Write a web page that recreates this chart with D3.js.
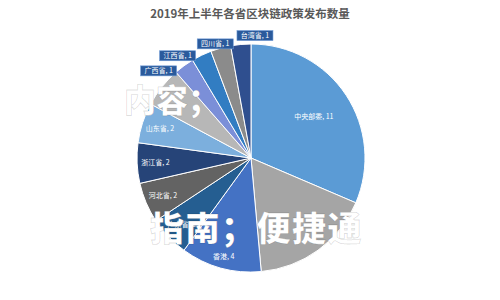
<!DOCTYPE html>
<html><head><meta charset="utf-8">
<script src="https://cdn.jsdelivr.net/npm/d3@7"></script>
<style>body{margin:0;background:#fff}svg{display:block}</style>
</head><body>
<svg id="c" width="500" height="300"></svg>
<script>
const title = "2019年上半年各省区块链政策发布数量";
const categories = ["中央部委","北京市","香港","广东省","河北省","浙江省","山东省","湖南省","广西省","江西省","四川省","台湾省"];
const values = [11,6,4,2,2,2,2,2,1,1,1,1];
const colors = ["#5b9bd5","#a5a5a5","#4472c4","#255e91","#636363","#264478","#7cafdd","#b7b7b7","#7b8fd8","#327dc2","#8b8b8b","#2f4f8f"];
const hiddenLabels = ["北京市","湖南省"]; // fully covered by the overlay text in the reference
const overlay1 = "内容；";
const overlay2 = "指南；便捷通";

const svg = d3.select("#c");
const W = 500, cx = 251, cy = 158, R = 114;
const font = "'Noto Sans CJK SC','Noto Sans',sans-serif";

svg.append("text").attr("x", W/2).attr("y", 18).attr("text-anchor","middle")
  .attr("font-family", font).attr("font-size", 11.5).attr("font-weight", 600)
  .attr("fill", "#595959").text(title);

const data = categories.map((c,i)=>({name:c, value:values[i], color:colors[i]}));
const pie = d3.pie().value(d=>d.value).sort(null);
const arcs = pie(data);
const arc = d3.arc().innerRadius(0).outerRadius(R);
const g = svg.append("g").attr("transform", `translate(${cx},${cy})`);

g.selectAll("path").data(arcs).join("path")
  .attr("d", arc).attr("fill", d=>d.data.color)
  .attr("stroke", "#fff").attr("stroke-width", 1);

const fmt = d => `${d.data.name}, ${d.data.value}`;
// inside labels
arcs.forEach(d=>{
  if (d.data.value < 2 || hiddenLabels.includes(d.data.name)) return;
  const k = d.data.value > 5 ? 0.66 : (d.data.value > 3 ? 0.9 : 0.84);
  const a = (d.startAngle + d.endAngle)/2;
  const x = Math.sin(a)*R*k, y = -Math.cos(a)*R*k;
  g.append("text").attr("x", x).attr("y", y).attr("dy","0.35em")
    .attr("text-anchor","middle").attr("font-family", font).attr("font-size", 7)
    .attr("fill", "#fff").text(fmt(d));
});
// callout labels for small slices
arcs.forEach(d=>{
  if (d.data.value >= 2) return;
  const a = (d.startAngle + d.endAngle)/2;
  const rr = R*1.08;
  const x = Math.sin(a)*rr;
  const y = -Math.cos(a)*rr - 2 + Math.abs(x)*0.2;
  const w = 36, h = 10;
  let x0;
  if (x > -20) x0 = x - 3; else if (x > -40) x0 = x - w/2 - 3; else x0 = x - w - 2;
  g.append("rect").attr("x", x0).attr("y", y - h/2).attr("width", w).attr("height", h)
    .attr("fill", "#2a5a9c").attr("stroke","#6f9bd6").attr("stroke-width",0.6);
  g.append("text").attr("x", x0 + w/2).attr("y", y).attr("dy","0.35em")
    .attr("text-anchor","middle").attr("font-family", font).attr("font-size", 7)
    .attr("fill", "#fff").text(fmt(d));
});

// overlay text
const ov = svg.append("g").attr("font-family", "'Noto Sans CJK SC',sans-serif").attr("font-weight", 900)
  .attr("fill", "#fff").attr("stroke", "rgba(0,0,0,0.15)").attr("stroke-width", 0.8);
ov.append("text").attr("x", 124).attr("y", 112).attr("font-size", 32).text(overlay1);
ov.append("text").attr("x", 150).attr("y", 241).attr("font-size", 34).attr("letter-spacing", 1.5).text(overlay2);
</script>
</body></html>
